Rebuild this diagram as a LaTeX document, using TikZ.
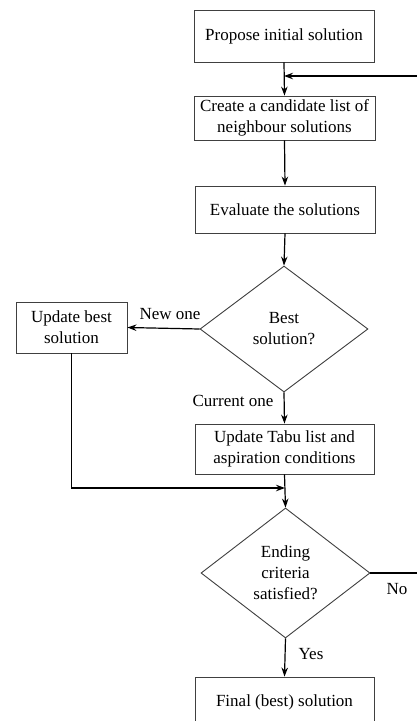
\documentclass[tikz,border=0pt]{standalone}
\usepackage{fontspec}
\setmainfont{Liberation Serif}
\usetikzlibrary{shapes.geometric,arrows.meta}
\begin{document}
\begin{tikzpicture}[x=1pt,y=-1pt,
  txt/.style={font=\fontsize{17}{21}\selectfont},
  box/.style={txt,draw=black!75,line width=0.9pt,rectangle,inner sep=2pt,align=center},
  decision/.style={txt,draw=black!75,line width=0.9pt,diamond,inner sep=0pt,align=center},
  arr/.style={line width=1.2pt,-{Stealth[length=9pt,width=6.5pt]}},
  plain/.style={line width=1.2pt},
  lbl/.style={txt,inner sep=0pt}]
\useasboundingbox (0,0) rectangle (417,721);
\clip (0,0) rectangle (417,721);
\fill[white] (0,0) rectangle (417,721);
% process boxes
\node[box,minimum width=180pt,minimum height=52pt] (propose) at (284,36) {Propose initial solution};
\node[box,minimum width=181pt,minimum height=44pt] (candidates) at (284.5,118) {Create a candidate list of\\neighbour solutions};
\node[box,minimum width=180pt,minimum height=47pt] (evaluate) at (285,209.5) {Evaluate the solutions};
\node[decision,minimum width=168pt,minimum height=126pt] (best) at (284,329) {Best\\solution?};
\node[box,minimum width=111pt,minimum height=51pt] (updbest) at (71.5,327.5) {Update best\\solution};
\node[box,minimum width=179pt,minimum height=50pt] (tabu) at (284.5,449) {Update Tabu list and\\aspiration conditions};
\node[decision,minimum width=169pt,minimum height=130pt] (ending) at (285.5,573) {Ending\\criteria\\satisfied?};
\node[box,minimum width=179pt,minimum height=50pt] (final) at (284.5,702) {Final (best) solution};
% connectors
\coordinate (loopin) at (417,76);
\coordinate (noout) at (417,573);
\coordinate (merge) at (285,488);
\draw[arr] (propose.south) -- (candidates.north);
\draw[arr] (loopin) -- (loopin -| propose.south);
\draw[arr] (candidates.south) -- (evaluate.north);
\draw[arr] (evaluate.south) -- (best.north);
\draw[arr] (best.west) -- (updbest.east);
\draw[arr] (best.south) -- (tabu.north);
\draw[arr] (updbest.south) |- (merge);
\draw[arr] (tabu.south) -- (ending.north);
\draw[plain] (ending.east) -- (noout);
\draw[arr] (ending.south) -- (final.north);
% labels
\node[lbl] (lnew) at (170,314) {New one};
\node[lbl] (lcur) at (233,401) {Current one};
\node[lbl] (lyes) at (311,654) {Yes};
\node[lbl] (lno) at (397,589) {No};
\end{tikzpicture}
\end{document}
